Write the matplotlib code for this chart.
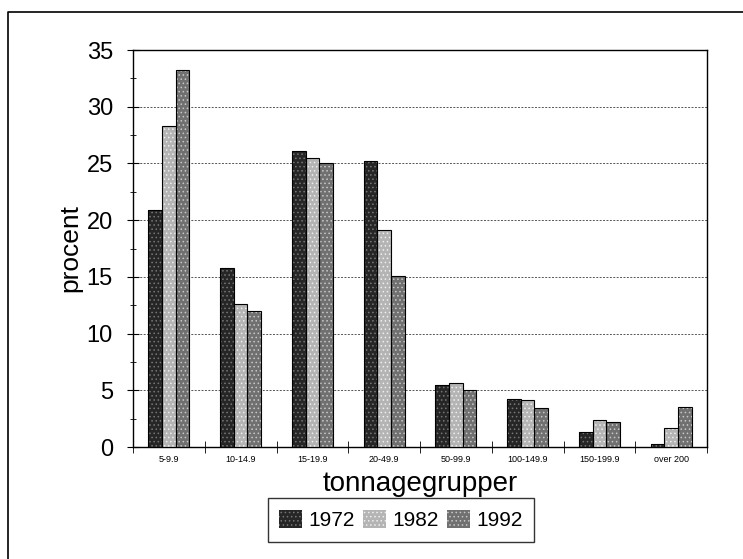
import matplotlib
matplotlib.use("Agg")
import matplotlib.pyplot as plt
import numpy as np
from matplotlib.lines import Line2D

plt.rcParams["font.family"] = ["Liberation Sans", "DejaVu Sans"]
plt.rcParams["hatch.linewidth"] = 0.6

groups = ["5-9.9", "10-14.9", "15-19.9", "20-49.9", "50-99.9",
          "100-149.9", "150-199.9", "over 200"]
years = ["1972", "1982", "1992"]
v1972 = [20.9, 15.8, 26.1, 25.2, 5.5, 4.2, 1.3, 0.3]
v1982 = [28.3, 12.6, 25.5, 19.1, 5.6, 4.1, 2.4, 1.7]
v1992 = [33.2, 12.0, 25.0, 15.1, 5.0, 3.4, 2.2, 3.5]

fig = plt.figure(figsize=(7.43, 5.59), dpi=100)
ax = fig.add_axes([133 / 743, 1 - 447 / 559, 574 / 743, 397 / 559])

x = np.arange(len(groups))
w = 0.19
styles = [("#262626", "#777777"), ("#b4b4b4", "#eeeeee"), ("#707070", "#c8c8c8")]
for i, (vals, yr) in enumerate(zip([v1972, v1982, v1992], years)):
    fc, hc = styles[i]
    ax.bar(x + (i - 1) * w, vals, w, color=fc, edgecolor=hc, hatch="....",
           linewidth=0, label=yr, zorder=3)
    ax.bar(x + (i - 1) * w, vals, w, fill=False, edgecolor="black",
           linewidth=0.8, zorder=4)

ax.set_xlim(-0.5, len(groups) - 0.5)
ax.set_ylim(0, 35)
ax.set_yticks(range(0, 36, 5))
ax.set_yticks(np.arange(0, 35, 2.5), minor=True)
ax.tick_params(axis="y", labelsize=17, direction="inout", length=9, pad=10)
ax.tick_params(axis="y", which="minor", direction="inout", length=5)
ax.set_xticks(x)
ax.set_xticklabels(groups, fontsize=6.5)
ax.tick_params(axis="x", length=0, pad=6)
ax.set_xticks(np.arange(-0.5, len(groups), 1), minor=True)
ax.tick_params(axis="x", which="minor", direction="inout", length=8)
ax.grid(axis="y", linestyle=(0, (2, 1.5)), color="#555555", linewidth=0.7, zorder=0)
for s in ax.spines.values():
    s.set_linewidth(1.0)

ax.set_ylabel("procent", fontsize=19, labelpad=3)
ax.set_xlabel("tonnagegrupper", fontsize=20, labelpad=5)

leg = fig.legend(loc="center", bbox_to_anchor=(401 / 743, 1 - 520 / 559), ncol=3,
                 fontsize=15, frameon=True, fancybox=False, edgecolor="black",
                 handlelength=1.1, handleheight=1.0, handletextpad=0.3,
                 columnspacing=0.4, borderpad=0.55)
leg.get_frame().set_linewidth(1.0)

# outer frame: only top and left edges visible
fig.lines.append(Line2D([8 / 743, 8 / 743, 1.0], [0.0, 1 - 12 / 559, 1 - 12 / 559],
                        transform=fig.transFigure, color="black", linewidth=1.2))

fig.savefig("out.png", dpi=100)
